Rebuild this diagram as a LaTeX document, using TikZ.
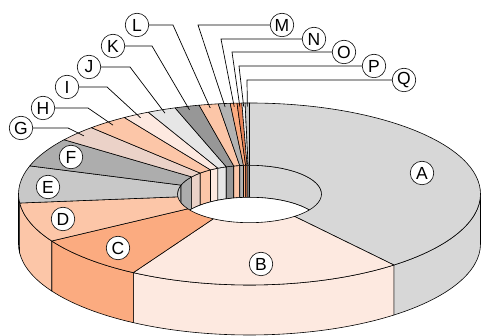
\documentclass[tikz,border=0pt]{standalone}
\usepackage{fontspec}
\setmainfont{Liberation Sans}
\usetikzlibrary{positioning}

\definecolor{colA}{HTML}{D7D7D7}
\definecolor{colB}{HTML}{FDE9E0}
\definecolor{colC}{HTML}{FBAB80}
\definecolor{colD}{HTML}{FCC6A8}
\definecolor{colE}{HTML}{C8C8C8}
\definecolor{colF}{HTML}{ADADAD}
\definecolor{colG}{HTML}{EBD2C8}
\definecolor{colH}{HTML}{FCC6A8}
\definecolor{colI}{HTML}{FDE9E0}
\definecolor{colJ}{HTML}{E6E6E6}
\definecolor{colK}{HTML}{979797}
\definecolor{colL}{HTML}{FCC6A8}
\definecolor{colM}{HTML}{B3B3B3}
\definecolor{colN}{HTML}{FBAB80}
\definecolor{colO}{HTML}{E8855A}
\definecolor{colP}{HTML}{F2F2F2}
\definecolor{colQ}{HTML}{C8C8C8}

\begin{document}
\begin{tikzpicture}[x=1pt, y=1pt,
    piece/.style={draw=black, line width=0.6pt, line join=round},
    tag/.style={circle, draw, fill=white, line width=0.6pt, minimum size=23.5pt, inner sep=0pt, font=\fontsize{17.5}{17.5}\selectfont},
    lead/.style={line width=0.7pt}
]
\useasboundingbox (-249.5,-142) rectangle (232.5,194);

% --- outer side wall (front half) ---
\foreach \a/\b/\c in {0/-51.3/colA, -51.3/-120.2/colB, -120.2/-148.9/colC,
                      -148.9/-174.3/colD, -174.3/-180/colE}
  \filldraw[piece, fill=\c] (\a:231 and 91)
    arc[start angle=\a, end angle=\b, x radius=231pt, y radius=91pt] -- ++(0,-50)
    arc[start angle=\b, end angle=\a, x radius=231pt, y radius=91pt] -- cycle;

% --- inner wall of the hole (back half) ---
\begin{scope}
  \clip (0,0) ellipse [x radius=72pt, y radius=28.7pt];
  \foreach \a/\b/\c in {90/0/colA, 180/162/colE, 162/143.4/colF, 143.4/133.2/colG,
                        133.2/122.8/colH, 122.8/116/colI, 116/108.8/colJ, 108.8/102.6/colK,
                        102.6/97.8/colL, 97.8/94.8/colM, 94.8/93.1/colN, 93.1/91.9/colO,
                        91.9/91.1/colP, 91.1/90/colQ}
    \filldraw[piece, fill=\c] (\a:72 and 28.7)
      arc[start angle=\a, end angle=\b, x radius=72pt, y radius=28.7pt] -- ++(0,-32)
      arc[start angle=\b, end angle=\a, x radius=72pt, y radius=28.7pt] -- cycle;
  \filldraw[piece, fill=white] (0,-32) ellipse [x radius=72pt, y radius=28.7pt];
\end{scope}

% --- top face ---
\foreach \a/\b/\c in {90/-51.3/colA, -51.3/-120.2/colB, -120.2/-148.9/colC,
                      -148.9/-174.3/colD, 185.7/162/colE, 162/143.4/colF, 143.4/133.2/colG,
                      133.2/122.8/colH, 122.8/116/colI, 116/108.8/colJ, 108.8/102.6/colK,
                      102.6/97.8/colL, 97.8/94.8/colM, 94.8/93.1/colN, 93.1/91.9/colO,
                      91.9/91.1/colP, 91.1/90/colQ}
  \filldraw[piece, fill=\c] (\a:231 and 91)
    arc[start angle=\a, end angle=\b, x radius=231pt, y radius=91pt] -- (\b:72 and 28.7)
    arc[start angle=\b, end angle=\a, x radius=72pt, y radius=28.7pt] -- cycle;

% --- labels on the slices ---
\node[tag] (labA) at (172.5,21) {A};
\node[tag] (labB) at (11.5,-70) {B};
\node[tag] (labC) at (-131.5,-54) {C};
\node[tag] (labD) at (-186.5,-25) {D};
\node[tag] (labE) at (-201.5,7) {E};
\node[tag] (labF) at (-178.5,37) {F};

% --- labels with leaders ---
\node[tag] (labG) at (-228.5,66) {G};
\node[tag] (labH) at (-206.5,86) {H};
\node[tag] (labI) at (-182.5,107) {I};
\node[tag] (labJ) at (-160.5,127) {J};
\node[tag] (labK) at (-136.5,148) {K};
\node[tag] (labL) at (-112.5,169) {L};
\node[tag] (labM) at (32.5,169) {M};
\node[tag] (labN) at (64.5,155) {N};
\node[tag] (labO) at (94.5,142) {O};
\node[tag] (labP) at (124.5,128) {P};
\node[tag] (labQ) at (154.5,114) {Q};

\coordinate (bendG) at (-181.5,66);
\coordinate (bendH) at (-161.5,86);
\coordinate (bendI) at (-142.5,107);
\coordinate (bendJ) at (-119.5,127);
\coordinate (bendK) at (-97.5,148);
\coordinate (bendL) at (-76.5,169);
\coordinate (bendM) at (-51.5,169);
\coordinate (bendN) at (-28.5,155);
\coordinate (bendO) at (-17.5,142);
\coordinate (bendP) at (-10.5,128);
\coordinate (bendQ) at (-2.5,114);

\coordinate (endG) at (138.3:221.8 and 87.4);
\coordinate (endH) at (128:221.8 and 87.4);
\coordinate (endI) at (119.4:221.8 and 87.4);
\coordinate (endJ) at (112.4:221.8 and 87.4);
\coordinate (endK) at (105.7:221.8 and 87.4);
\coordinate (endL) at (100.2:221.8 and 87.4);
\coordinate (endM) at (96.3:221.8 and 87.4);
\coordinate (endN) at (93.95:221.8 and 87.4);
\coordinate (endO) at (92.5:221.8 and 87.4);
\coordinate (endP) at (91.5:221.8 and 87.4);
\coordinate (endQ) at (90.55:221.8 and 87.4);

\draw[lead] (labG) -- (bendG) -- (endG);
\draw[lead] (labH) -- (bendH) -- (endH);
\draw[lead] (labI) -- (bendI) -- (endI);
\draw[lead] (labJ) -- (bendJ) -- (endJ);
\draw[lead] (labK) -- (bendK) -- (endK);
\draw[lead] (labL) -- (bendL) -- (endL);
\draw[lead] (labM) -- (bendM) -- (endM);
\draw[lead] (labN) -- (bendN) -- (endN);
\draw[lead] (labO) -- (bendO) -- (endO);
\draw[lead] (labP) -- (bendP) -- (endP);
\draw[lead] (labQ) -- (bendQ) -- (endQ);

\end{tikzpicture}
\end{document}
